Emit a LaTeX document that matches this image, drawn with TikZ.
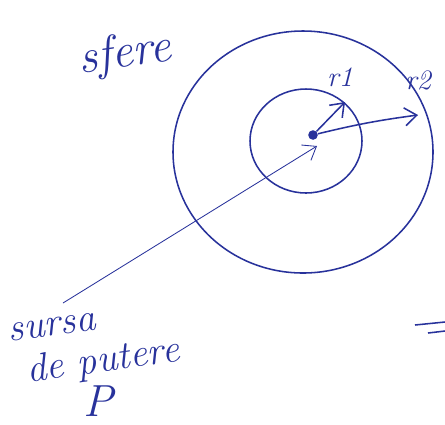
\documentclass[tikz,border=0pt]{standalone}
\usepackage{tikz}
\usetikzlibrary{positioning,arrows.meta}
\definecolor{ink}{RGB}{40,50,155}
\tikzset{
  pen/.style={draw=ink,line width=1.1pt},
  hand/.style={text=ink,font=\fontsize{28}{30}\selectfont\itshape,inner sep=1pt},
  label/.style={hand,font=\fontsize{20}{22}\selectfont\itshape},
  ar/.style={-{Straight Barb[length=3mm,width=4.5mm]},line width=1.1pt,ink},
}
\begin{document}
\begin{tikzpicture}[x=0.025cm,y=-0.025cm]
  \useasboundingbox (0,0) rectangle (445,424);
  % the two spheres
  \draw[pen] (303,152) ellipse [x radius=130,y radius=121];
  \draw[pen] (306,141) ellipse [x radius=56,y radius=52];
  \node[circle,fill=ink,inner sep=0pt,minimum size=2.4mm] (c) at (313,135) {};
  \coordinate (t1) at (345,102);
  \coordinate (t2) at (418,115);
  \draw[ar] (c) -- (t1);
  \draw[ar] (c) to[bend left=3] (t2);
  \node[label] (r1) at (340,77) {r1};
  \node[label] (r2) at (418,80) {r2};
  \node[hand,font=\fontsize{34}{36}\selectfont\itshape,rotate=8] (sfere) at (125,55) {sfere};
  % source text
  \node[hand,rotate=8] (sursa) at (52,327) {sursa};
  \node[hand,rotate=8] (putere) at (103,362) {de putere};
  \node[hand,font=\fontsize{32}{34}\selectfont\itshape] (p) at (98,401) {P};
  \coordinate (src) at (63,303);
  \coordinate (tin) at (317,146);
  \draw[ar,line width=0.6pt] (src) -- (tin);
  % equal sign at the edge
  \draw[pen] (415,325) -- (445,322);
  \draw[pen] (428,333) -- (445,331);
\end{tikzpicture}
\end{document}
